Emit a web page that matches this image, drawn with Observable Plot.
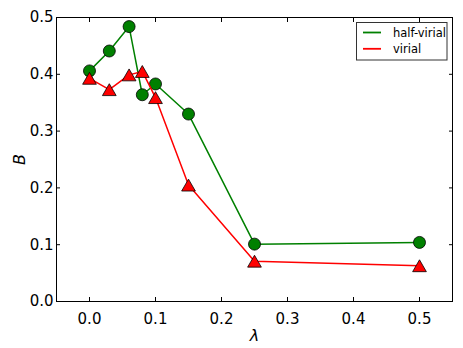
<!DOCTYPE html>
<html>
<head>
<meta charset="utf-8">
<script src="https://cdn.jsdelivr.net/npm/d3@7"></script>
<script src="https://cdn.jsdelivr.net/npm/@observablehq/plot@0.6"></script>
<style>
  html, body { margin: 0; padding: 0; background: white; }
  #wrap { position: relative; width: 463px; height: 348px; }
  #legend { position: absolute; left: 356px; top: 22px; }
</style>
</head>
<body>
<div id="wrap"></div>
<script>
const lambda = [0, 0.03, 0.06, 0.08, 0.1, 0.15, 0.25, 0.5];
const halfVirial = [0.406, 0.441, 0.484, 0.364, 0.383, 0.330, 0.101, 0.104];
const virial = [0.393, 0.373, 0.399, 0.405, 0.359, 0.205, 0.071, 0.063];
const xTicks = [0, 0.1, 0.2, 0.3, 0.4, 0.5];
const yTicks = [0, 0.1, 0.2, 0.3, 0.4, 0.5];
const seriesNames = ["half-virial", "virial"];
const seriesColors = ["#008000", "#ff0000"];

const hv = lambda.map((l, i) => ({l, b: halfVirial[i]}));
const vr = lambda.map((l, i) => ({l, b: virial[i]}));
const fmt = d3.format(".1f");

const chart = Plot.plot({
  width: 463, height: 348,
  marginLeft: 56, marginRight: 11, marginTop: 17, marginBottom: 47,
  x: {domain: [-0.05, 0.55], axis: null},
  y: {domain: [0, 0.5], axis: null},
  style: {fontFamily: "DejaVu Sans", fontSize: "15px", background: "white", color: "black"},
  marks: [
    Plot.line(hv, {x: "l", y: "b", stroke: seriesColors[0], strokeWidth: 1.5}),
    Plot.dot(hv, {x: "l", y: "b", r: 6, fill: seriesColors[0], stroke: "black", strokeWidth: 0.8}),
    Plot.line(vr, {x: "l", y: "b", stroke: seriesColors[1], strokeWidth: 1.5}),
    Plot.dot(vr, {x: "l", y: "b", r: 5.1, symbol: "triangle", fill: seriesColors[1], stroke: "black", strokeWidth: 0.8, dy: 2}),
    Plot.frame({stroke: "black", strokeWidth: 1}),
    Plot.axisX(xTicks, {anchor: "bottom", tickSize: -4, tickPadding: 16, tickFormat: fmt, label: null, fontSize: 15}),
    Plot.axisX(xTicks, {anchor: "top", tickSize: -4, tickFormat: () => "", label: null}),
    Plot.axisY(yTicks, {anchor: "left", tickSize: -4, tickPadding: 7, tickFormat: fmt, label: null, fontSize: 15}),
    Plot.axisY(yTicks, {anchor: "right", tickSize: -4, tickFormat: () => "", label: null}),
    Plot.text(["λ"], {frameAnchor: "bottom", dy: 34, lineAnchor: "middle", textAnchor: "middle", fontSize: 16, fontStyle: "italic"}),
    Plot.text(["B"], {frameAnchor: "left", dx: -37, rotate: -90, lineAnchor: "middle", textAnchor: "middle", fontSize: 16, fontStyle: "italic"})
  ]
});
const wrap = document.getElementById("wrap");
wrap.appendChild(chart);

// legend
const lw = 92, lh = 39;
const leg = d3.create("svg").attr("id", "legend").attr("width", lw).attr("height", lh)
  .style("font-family", "DejaVu Sans").style("font-size", "11.5px");
leg.append("rect").attr("x", 0.5).attr("y", 0.5).attr("width", lw - 1.5).attr("height", lh - 1.5)
  .attr("fill", "white").attr("stroke", "#333");
seriesNames.forEach((name, i) => {
  const cy = 10.5 + i * 16.3;
  leg.append("line").attr("x1", 7).attr("x2", 25).attr("y1", cy).attr("y2", cy)
    .attr("stroke", seriesColors[i]).attr("stroke-width", 1.8);
  leg.append("text").attr("x", 37).attr("y", cy).attr("dy", "0.35em").attr("fill", "black").text(name);
});
wrap.appendChild(leg.node());
</script>
</body>
</html>
